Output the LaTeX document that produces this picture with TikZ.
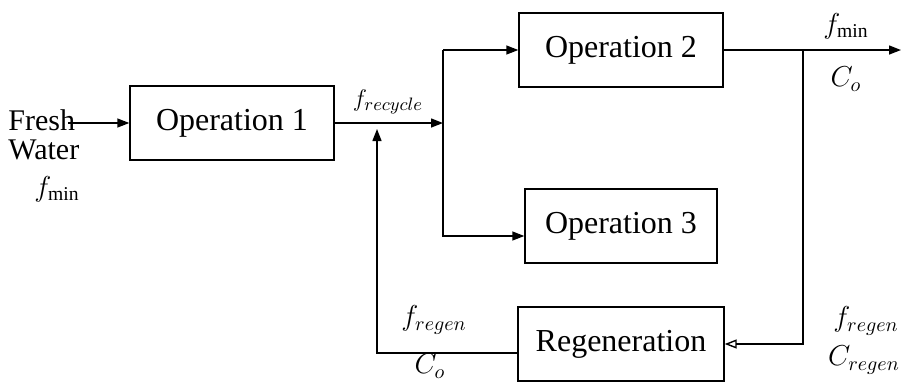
\documentclass[tikz,border=0pt]{standalone}
\usepackage{fontspec}
\setmainfont{Liberation Serif}
\usetikzlibrary{arrows.meta,positioning,calc}

\tikzset{
  opbox/.style={draw,line width=0.7pt,minimum width=102pt,minimum height=37pt,font=\fontsize{16}{19}\selectfont},
  flow/.style={line width=0.7pt,-{Triangle[length=6pt,width=4.5pt]}},
  lbl/.style={font=\fontsize{14}{17}\selectfont,inner sep=0pt}
}

\begin{document}
\begin{tikzpicture}[x=0.5pt,y=-0.5pt]
\useasboundingbox (0,0) rectangle (901,382);

% boxes
\node[opbox] (op1) at (232,123) {Operation 1};
\node[opbox] (op2) at (621,50) {Operation 2};
\node[opbox,minimum width=96pt] (op3) at (621,226) {Operation 3};
\node[opbox,minimum width=103pt] (regen) at (621,344) {Regeneration};

% feed
\node[font=\fontsize{15}{14.5}\selectfont,align=left,inner sep=0pt,anchor=north west] (fresh) at (8,109) {Fresh\\Water};
\coordinate (in) at (68,123);
\node[lbl] (fmin1) at (57,189) {$f_{\mathrm{min}}$};
\draw[flow] (in) -- (op1);

% split
\coordinate (mix) at (377,123);
\coordinate (split) at (443,123);
\coordinate (top) at (443,50);
\draw[flow] (op1) -- (split);
\node[lbl,font=\fontsize{13}{16}\selectfont] (frec) at (388,102) {$f_{recycle}$};
\draw[flow] (top) -- (op2.west |- top);
\draw[flow] (top) |- ([yshift=-5pt]op3.west);

% outlet
\coordinate (tap) at (803,50);
\coordinate (out) at (901,50);
\draw[flow] (op2) -- (out);
\node[lbl] (fmin2) at (846,26) {$f_{\mathrm{min}}$};
\node[lbl] (co1) at (846,79) {$C_o$};
\draw[line width=0.7pt,-{Triangle[open,length=6pt,width=4.5pt]}] (tap) |- (regen);
\node[lbl] (freg2) at (866,321) {$f_{regen}$};
\node[lbl] (creg) at (864,360) {$C_{regen}$};

% regenerated water back
\draw[flow] ([yshift=-4.5pt]regen.west) -| ([yshift=-3pt]mix);
\node[lbl] (freg1) at (434,320) {$f_{regen}$};
\node[lbl] (co2) at (430,366) {$C_o$};
\end{tikzpicture}
\end{document}
